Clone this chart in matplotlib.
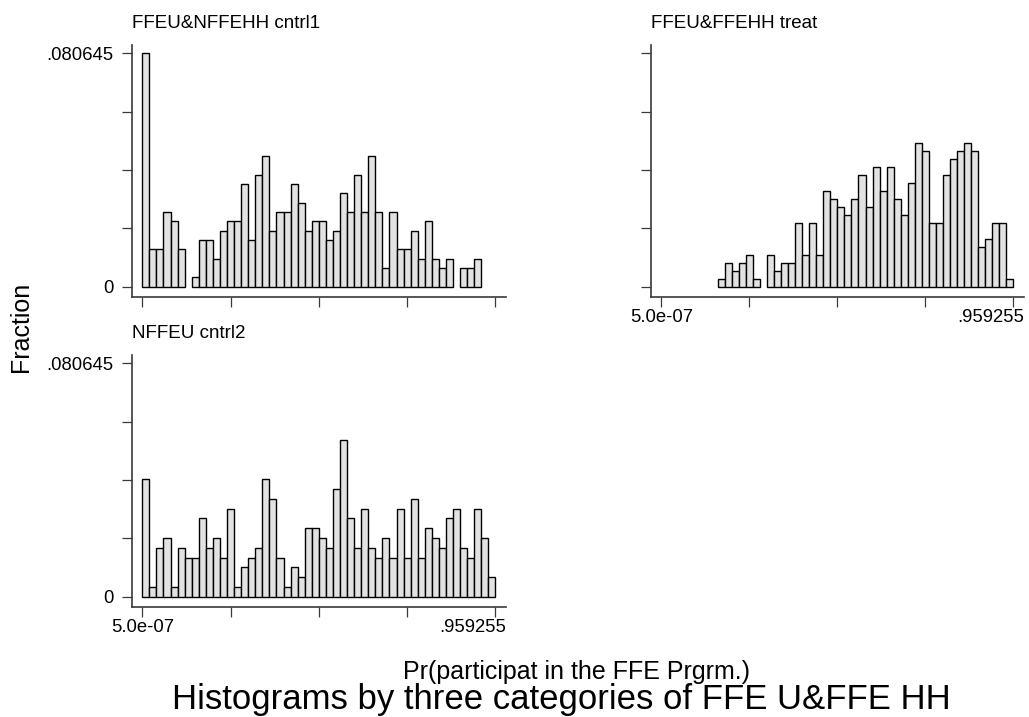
#import necessary libraries
import numpy as np
import matplotlib
matplotlib.use("Agg")
import matplotlib.pyplot as plt

#use an arial-like font
plt.rcParams['font.family'] = ['Liberation Sans', 'DejaVu Sans']

#range of the propensity score and the number of bins
x_min = 5.0e-07
x_max = 0.959255
n_bins = 50

#counts per bin (fraction = count / total)
cntrl1_counts = [25, 4, 4, 8, 7, 4, 0, 1, 5, 5, 3, 6, 7, 7, 11, 5, 12, 14, 6, 8,
                 8, 11, 9, 6, 7, 7, 5, 6, 10, 8, 12, 8, 14, 8, 2, 8, 4, 4, 6, 3,
                 7, 3, 2, 3, 0, 2, 2, 3, 0, 0]
treat_counts = [0, 0, 0, 0, 0, 0, 0, 0, 1, 3, 2, 3, 4, 1, 0, 4, 2, 3, 3, 8,
                4, 8, 4, 12, 11, 10, 9, 11, 14, 10, 15, 12, 15, 11, 9, 13, 18, 17, 8, 8,
                14, 16, 17, 18, 17, 5, 6, 8, 8, 1]
cntrl2_counts = [12, 1, 5, 6, 1, 5, 4, 4, 8, 5, 6, 4, 9, 1, 3, 4, 5, 12, 10, 4,
                 1, 3, 2, 7, 7, 6, 5, 11, 16, 8, 5, 9, 5, 4, 6, 4, 9, 4, 10, 4,
                 7, 6, 5, 8, 9, 5, 4, 9, 6, 2]

#panel titles and axis texts
panel_titles = ["FFEU&NFFEHH cntrl1", "FFEU&FFEHH treat", "NFFEU cntrl2"]
y_top = 0.080645
y_tick_labels = ["0", "", "", "", ".080645"]
x_tick_labels = ["5.0e-07", ".959255"]
x_title = "Pr(participat in the FFE Prgrm.)"
y_title = "Fraction"
main_title = "Histograms by three categories of FFE U&FFE HH"

#bin edges and tick positions (ticks evenly spaced between min and max)
edges = np.linspace(x_min, x_max, n_bins + 1)
width = edges[1] - edges[0]
x_ticks = np.linspace(x_min, x_max, 5)
y_ticks = np.linspace(0, y_top, 5)

W, H = 1029, 717
fig = plt.figure(figsize=(W / 100, H / 100), dpi=100)

#axes boxes in pixels: left, top, width, height
boxes = [(131.7, 45, 374, 251.7), (650.7, 45, 373, 251.7), (131.7, 355, 374, 251.7)]
all_counts = [cntrl1_counts, treat_counts, cntrl2_counts]

for i in range(3):
    l, t, w, h = boxes[i]
    ax = fig.add_axes([l / W, 1 - (t + h) / H, w / W, h / H])
    counts = np.array(all_counts[i], dtype=float)
    frac = counts / counts.sum()
    #only draw the bins that have data
    keep = counts > 0
    ax.bar(edges[:-1][keep], frac[keep], width=width, align='edge',
           color='#e2e2e2', edgecolor='black', linewidth=1.0)

    ax.set_xlim(x_min - 0.0287, x_max + 0.0280)
    ax.set_ylim(-0.003455, 0.08351)

    #only left and bottom axis lines like stata
    for s in ['top', 'right']:
        ax.spines[s].set_visible(False)
    for s in ['left', 'bottom']:
        ax.spines[s].set_color('#3a3a3a')
        ax.spines[s].set_linewidth(1.2)
    ax.tick_params(length=7.2, width=0.9, color='#3a3a3a', labelsize=13.3, pad=6)

    ax.set_xticks(x_ticks)
    ax.set_xticklabels([])
    ax.set_yticks(y_ticks)
    if i == 1:
        ax.set_yticklabels([])
    else:
        ax.set_yticklabels(y_tick_labels)

    #x labels only at both ends for the lower panels
    if i > 0:
        ax.annotate(x_tick_labels[0], xy=(x_min, 0), xycoords=('data', 'axes fraction'),
                    xytext=(0, -18.5), textcoords='offset points',
                    ha='center', va='baseline', fontsize=13.3)
        ax.annotate(x_tick_labels[1], xy=(1, 0), xycoords='axes fraction',
                    xytext=(0, -18.5), textcoords='offset points',
                    ha='right', va='baseline', fontsize=13.3)

    #panel title on the top left
    fig.text(l / W, 1 - (t - 17.5) / H, panel_titles[i], ha='left', va='baseline', fontsize=13.5)

#common axis titles and the note below
fig.text(21.5 / W, 1 - 327 / H, y_title, rotation=90, ha='center', va='center', fontsize=18)
fig.text(576.5 / W, 1 - 678.5 / H, x_title, ha='center', va='baseline', fontsize=18)
fig.text(561 / W, 1 - 709.3 / H, main_title, ha='center', va='baseline', fontsize=25)

plt.savefig("out.png", dpi=100, facecolor='white')
